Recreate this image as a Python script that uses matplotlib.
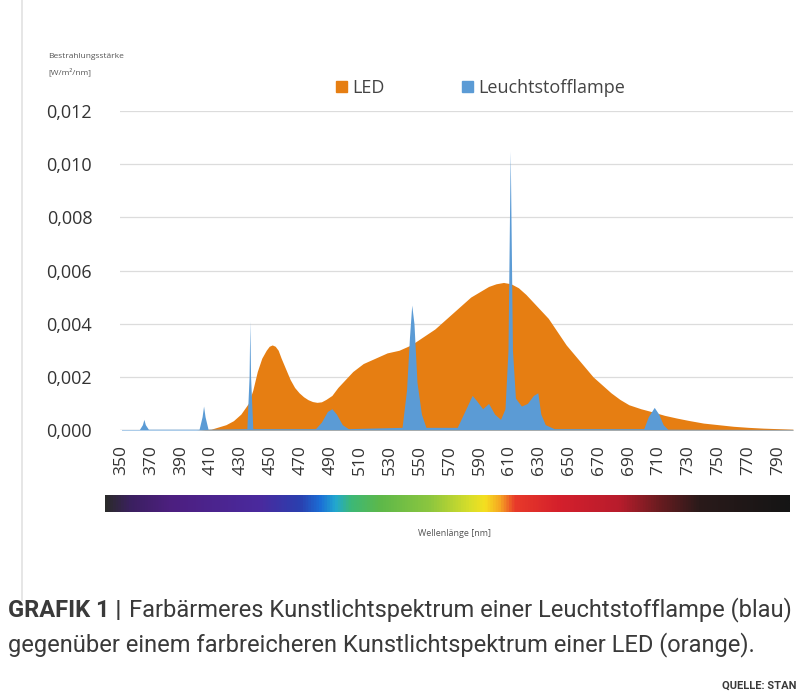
import numpy as np
import matplotlib.pyplot as plt
from matplotlib.colors import LinearSegmentedColormap
from matplotlib.lines import Line2D
from matplotlib.patches import Patch

# === DATA ===
led_nm = [350, 400, 410, 420, 425, 430, 435, 438, 441, 444, 447, 449, 451, 453, 455, 457,
          460, 463, 466, 469, 472, 475, 478, 481, 484, 487, 491, 495, 500, 505, 512, 520,
          528, 536, 544, 552, 560, 568, 576, 584, 590, 596, 601, 606, 611, 616, 621,
          626, 631, 636, 642, 648, 654, 660, 666, 672, 678, 684, 690, 698, 706, 714,
          722, 730, 740, 750, 760, 770, 780, 790, 800]
led_val = [0.0, 0.0, 0.00003, 0.0002, 0.00035, 0.0006, 0.0010, 0.0015, 0.0022, 0.0027,
           0.0030, 0.00315, 0.0032, 0.00315, 0.0030, 0.0027, 0.0023, 0.0019, 0.0016,
           0.0014, 0.00125, 0.00114, 0.00107, 0.00104, 0.00106, 0.00115, 0.0013, 0.0016,
           0.0019, 0.0022, 0.0025, 0.0027, 0.0029, 0.0030, 0.0032, 0.0035, 0.0038,
           0.0042, 0.0046, 0.0050, 0.0052, 0.0054, 0.0055, 0.00555, 0.0055, 0.00535,
           0.0051, 0.0048, 0.0045, 0.0042, 0.0037, 0.0032, 0.0028, 0.0024, 0.0020,
           0.0017, 0.0014, 0.00115, 0.00095, 0.0008, 0.00068, 0.00055, 0.00045,
           0.00036, 0.00026, 0.0002, 0.00014, 0.0001, 0.00007, 0.00005, 0.00003]

fl_nm = [350, 362, 364, 365, 366, 368, 402, 404, 405, 406, 408, 434, 435.5, 436, 436.5,
         438, 480, 484, 488, 491, 494, 498, 502, 538, 541, 543, 544.5, 546, 548, 551,
         554, 575, 580, 585, 588, 592, 596, 600, 604, 607, 609, 610.5, 612, 614, 618,
         622, 626, 629, 631, 634, 640, 700, 703, 707, 710, 713, 716, 800]
fl_val = [0.00002, 0.00002, 0.0002, 0.0004, 0.0002, 0.00003, 0.00003, 0.0005, 0.0009,
          0.0005, 0.00003, 0.00005, 0.002, 0.0041, 0.002, 0.00005, 0.00005, 0.0003,
          0.0007, 0.0008, 0.0006, 0.0002, 0.00005, 0.0001, 0.0015, 0.0035, 0.0047,
          0.0040, 0.0018, 0.0006, 0.0001, 0.0001, 0.0007, 0.0013, 0.0011, 0.0008,
          0.0010, 0.0006, 0.0004, 0.0008, 0.003, 0.0105, 0.003, 0.0012, 0.0009, 0.001,
          0.0013, 0.0014, 0.0006, 0.0002, 0.00005, 0.00005, 0.0005, 0.00085, 0.0006,
          0.0002, 0.00003, 0.00002]

x_ticks = list(range(350, 791, 20))
y_ticks = [0.0, 0.002, 0.004, 0.006, 0.008, 0.010, 0.012]

# spectrum bar colour stops (position along bar, colour)
spec_pos = [0.0, 0.036, 0.095, 0.226, 0.285, 0.314, 0.336, 0.358, 0.401, 0.474,
            0.533, 0.555, 0.577, 0.599, 0.664, 0.752, 0.81, 0.869, 1.0]
spec_col = ["#2b2b2b", "#3b2060", "#4d1f80", "#4a2a9e", "#2a40b0", "#1b6fd6", "#22a8d0",
            "#3cb878", "#5db84a", "#8cc63f", "#d8de2a", "#f5e020", "#f6a623", "#e83a2a",
            "#d4202c", "#b81c2c", "#6a1c20", "#2a1a1a", "#151515"]

caption_1 = "Farbärmeres Kunstlichtspektrum einer Leuchtstofflampe (blau)"
caption_2 = "gegenüber einem farbreicheren Kunstlichtspektrum einer LED (orange)."

# === FONTS ===
plt.rcParams["font.family"] = ["Open Sans", "DejaVu Sans"]
cap_font = "Roboto"

W, H = 798, 695
fig = plt.figure(figsize=(W / 100, H / 100), dpi=100)

def fx(px):
    return px / W

def fy(py):
    return 1 - py / H

# === MAIN AXES ===
ax = fig.add_axes([fx(120), fy(430), fx(793) - fx(120), fy(111) - fy(430)])
orange = "#E67E12"
blue = "#5B9BD5"
ax.fill_between(led_nm, led_val, 0, color=orange, lw=0, zorder=2)
ax.fill_between(fl_nm, fl_val, 0, color=blue, lw=0, zorder=3)

ax.set_xlim(349, 800)
ax.set_ylim(0, 0.012)
ax.set_yticks(y_ticks)
ax.set_yticklabels([f"{v:.3f}".replace(".", ",") for v in y_ticks],
                   fontsize=13, color="#333333")
ax.set_xticks(x_ticks)
ax.set_xticklabels([str(v) for v in x_ticks], rotation=90, fontsize=12.5,
                   color="#333333", va="top")
ax.tick_params(axis="y", length=0, pad=20)
ax.tick_params(axis="x", length=0, pad=11)
for s in ax.spines.values():
    s.set_visible(False)
ax.grid(axis="y", color="#dcdcdc", lw=0.9)
ax.set_axisbelow(True)
ax.axhline(0, color="#d0d0d0", lw=0.9, zorder=1)

# legend
ax.legend([Patch(color=orange), Patch(color=blue)], ["LED", "Leuchtstofflampe"],
          loc="center left", bbox_to_anchor=(fx(336), fy(88)),
          bbox_transform=fig.transFigure, ncol=2, frameon=False, fontsize=13,
          handlelength=0.6, handleheight=0.6, handletextpad=0.3,
          columnspacing=4.3, borderpad=0, borderaxespad=0, labelcolor="#444444")

# y-axis title
fig.text(fx(48), fy(57), "Bestrahlungsstärke", fontsize=6, color="#555555",
         ha="left", va="center")
fig.text(fx(48), fy(72), "[W/m²/nm]", fontsize=6, color="#555555",
         ha="left", va="center")

# === SPECTRUM BAR ===
cmap = LinearSegmentedColormap.from_list("spec", list(zip(spec_pos, spec_col)))
bar = fig.add_axes([fx(105), fy(512), fx(790) - fx(105), fy(495) - fy(512)])
bar.imshow(np.linspace(0, 1, 512)[None, :], aspect="auto", cmap=cmap)
bar.axis("off")

fig.text(fx(455), fy(533), "Wellenlänge [nm]", fontsize=6.5, color="#555555",
         ha="center", va="center")

# page edge line
fig.add_artist(Line2D([fx(22), fx(22)], [fy(600), 1], color="#e2e2e2", lw=1.2))

# === CAPTION ===
cap_size = 17
r = fig.canvas.get_renderer()
t0 = fig.text(fx(8), fy(610), "GRAFIK 1 |", fontsize=cap_size, fontweight="bold",
              family=cap_font, color="#3a3a3a", ha="left", va="center")
x_end = t0.get_window_extent(r).x1
fig.text(x_end / W + fx(8), fy(610), caption_1, fontsize=cap_size, family=cap_font,
         color="#3a3a3a", ha="left", va="center")
fig.text(fx(8), fy(645), caption_2, fontsize=cap_size, family=cap_font,
         color="#3a3a3a", ha="left", va="center")
fig.text(fx(796), fy(686), "QUELLE: STAN", fontsize=8, fontweight="bold",
         family=cap_font, color="#3a3a3a", ha="right", va="center")

fig.savefig("out.png", dpi=100)
